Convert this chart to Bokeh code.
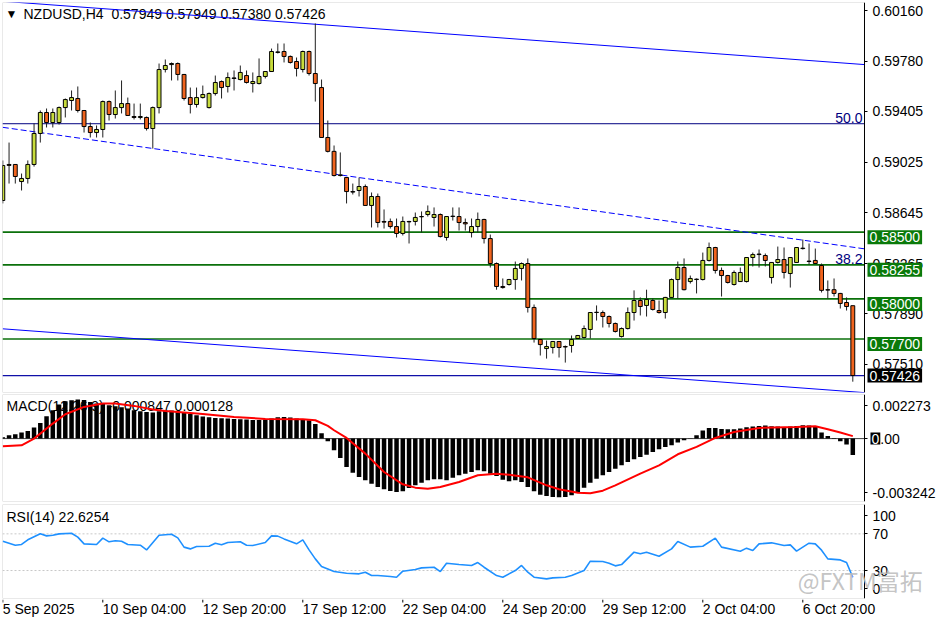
import math
from bokeh.plotting import figure
from bokeh.models import (Range1d, FixedTicker, Label, NumeralTickFormatter, ColumnDataSource,
                          LinearAxis, BoxAnnotation)
from bokeh.layouts import column
from bokeh.embed import file_html
from bokeh.resources import INLINE
from bokeh.core.properties import value

FONT = "Liberation Sans"

# ---------------- data (NZDUSD H4) ----------------
opens = [0.58737,0.59007,0.59007,0.58879,0.58902,0.59007,0.59239,0.59396,0.59321,0.59321,
         0.59433,0.59486,0.59501,0.59411,0.59291,0.59246,0.59269,0.59478,0.59381,0.59433,
         0.59463,0.59366,0.59359,0.59359,0.59276,0.59433,0.59718,0.59755,0.59763,0.59681,
         0.59508,0.59456,0.59508,0.59433,0.59538,0.59628,0.59591,0.59651,0.59643,0.59673,
         0.59613,0.59613,0.59666,0.59703,0.59846,0.59853,0.59816,0.59778,0.59718,0.59853,
         0.59688,0.59583,0.59209,0.59105,0.58924,0.58909,0.58804,0.58812,0.58842,0.58700,
         0.58767,0.58580,0.58580,0.58542,0.58490,0.58580,0.58580,0.58615,0.58632,0.58610,
         0.58632,0.58460,0.58617,0.58617,0.58572,0.58497,0.58542,0.58595,0.58452,0.58265,
         0.58093,0.58108,0.58145,0.58228,0.58265,0.57936,0.57696,0.57628,0.57636,0.57681,
         0.57643,0.57651,0.57703,0.57711,0.57771,0.57898,0.57898,0.57868,0.57816,0.57718,
         0.57778,0.57898,0.57988,0.57951,0.57988,0.57913,0.57898,0.58011,0.58145,0.58235,
         0.58130,0.58145,0.58145,0.58288,0.58385,0.58213,0.58175,0.58108,0.58130,0.58130,
         0.58310,0.58332,0.58325,0.58160,0.58273,0.58295,0.58190,0.58273,0.58377,0.58280,
         0.58288,0.58250,0.58069,0.58069,0.58041,0.57973,0.57949]
highs = [0.59037,0.59171,0.59010,0.58939,0.59037,0.59314,0.59411,0.59426,0.59426,0.59441,
         0.59501,0.59561,0.59591,0.59415,0.59321,0.59299,0.59486,0.59486,0.59561,0.59636,
         0.59508,0.59463,0.59463,0.59366,0.59441,0.59763,0.59793,0.59771,0.59771,0.59685,
         0.59583,0.59583,0.59598,0.59546,0.59673,0.59636,0.59696,0.59711,0.59748,0.59711,
         0.59696,0.59801,0.59703,0.59875,0.59913,0.59913,0.59823,0.59808,0.59860,0.59860,
         0.60063,0.59643,0.59336,0.59149,0.59097,0.58912,0.58864,0.58909,0.58857,0.58797,
         0.58789,0.58670,0.58602,0.58602,0.58617,0.58585,0.58647,0.58655,0.58700,0.58685,
         0.58640,0.58620,0.58685,0.58685,0.58602,0.58602,0.58647,0.58600,0.58482,0.58273,
         0.58153,0.58150,0.58280,0.58273,0.58303,0.57958,0.57700,0.57688,0.57685,0.57685,
         0.57651,0.57726,0.57730,0.57801,0.57900,0.57951,0.57913,0.57876,0.57823,0.57786,
         0.57936,0.58064,0.58011,0.58069,0.58003,0.57988,0.58015,0.58153,0.58280,0.58303,
         0.58175,0.58153,0.58347,0.58422,0.58390,0.58235,0.58180,0.58213,0.58235,0.58312,
         0.58347,0.58370,0.58340,0.58275,0.58392,0.58385,0.58312,0.58387,0.58445,0.58415,
         0.58377,0.58265,0.58138,0.58153,0.58045,0.58011,0.57949]
lows = [0.58715,0.58864,0.58864,0.58812,0.58864,0.58991,0.59171,0.59284,0.59284,0.59306,
        0.59359,0.59411,0.59396,0.59246,0.59209,0.59209,0.59209,0.59336,0.59351,0.59389,
        0.59370,0.59344,0.59344,0.59261,0.59126,0.59389,0.59696,0.59636,0.59636,0.59486,
        0.59389,0.59433,0.59501,0.59426,0.59523,0.59501,0.59546,0.59561,0.59636,0.59613,
        0.59546,0.59606,0.59651,0.59700,0.59838,0.59771,0.59763,0.59666,0.59696,0.59673,
        0.59478,0.59209,0.59097,0.58917,0.58917,0.58715,0.58782,0.58767,0.58700,0.58535,
        0.58535,0.58527,0.58527,0.58460,0.58475,0.58415,0.58550,0.58497,0.58617,0.58542,
        0.58460,0.58437,0.58587,0.58512,0.58512,0.58460,0.58497,0.58415,0.58235,0.58069,
        0.58077,0.58100,0.58069,0.58138,0.57898,0.57673,0.57576,0.57553,0.57591,0.57561,
        0.57523,0.57598,0.57700,0.57703,0.57703,0.57838,0.57786,0.57786,0.57748,0.57711,
        0.57771,0.57838,0.57876,0.57868,0.57913,0.57890,0.57853,0.58008,0.58003,0.58064,
        0.58115,0.58041,0.58138,0.58280,0.58190,0.58018,0.58115,0.58100,0.58127,0.58123,
        0.58243,0.58235,0.58243,0.58115,0.58265,0.58153,0.58085,0.58270,0.58370,0.58258,
        0.58262,0.58048,0.58003,0.58018,0.57928,0.57913,0.57380]
closes = [0.58999,0.59000,0.58917,0.58902,0.59007,0.59239,0.59396,0.59321,0.59396,0.59433,
          0.59493,0.59508,0.59411,0.59291,0.59246,0.59269,0.59478,0.59381,0.59433,0.59463,
          0.59374,0.59359,0.59366,0.59276,0.59433,0.59718,0.59748,0.59763,0.59681,0.59501,
          0.59456,0.59508,0.59531,0.59538,0.59621,0.59583,0.59658,0.59655,0.59696,0.59621,
          0.59628,0.59666,0.59703,0.59853,0.59850,0.59816,0.59771,0.59726,0.59853,0.59688,
          0.59613,0.59209,0.59105,0.58924,0.58929,0.58804,0.58800,0.58842,0.58700,0.58767,
          0.58572,0.58575,0.58542,0.58490,0.58580,0.58577,0.58610,0.58617,0.58655,0.58632,
          0.58467,0.58617,0.58620,0.58572,0.58562,0.58542,0.58595,0.58452,0.58265,0.58093,
          0.58085,0.58145,0.58228,0.58265,0.57936,0.57703,0.57658,0.57643,0.57681,0.57636,
          0.57640,0.57696,0.57726,0.57778,0.57898,0.57900,0.57868,0.57816,0.57756,0.57778,
          0.57898,0.57988,0.57943,0.57996,0.57921,0.57898,0.58011,0.58145,0.58235,0.58069,
          0.58153,0.58148,0.58288,0.58385,0.58213,0.58175,0.58123,0.58198,0.58198,0.58310,
          0.58332,0.58336,0.58288,0.58273,0.58295,0.58198,0.58310,0.58385,0.58380,0.58283,
          0.58265,0.58064,0.58066,0.58041,0.57966,0.57943,0.57426]

macd_hist = [0.000069,0.000172,0.000224,0.00031,0.000396,0.000568,0.000808,0.001152,0.001462,0.001754,
             0.001926,0.001978,0.002012,0.001995,0.001892,0.001806,0.001789,0.00172,0.001668,0.001617,
             0.001548,0.001462,0.00141,0.001376,0.001342,0.00141,0.001445,0.001445,0.00141,0.001376,
             0.001273,0.001204,0.001135,0.001101,0.001066,0.001049,0.001032,0.001015,0.000998,0.00098,
             0.000963,0.000963,0.00098,0.001032,0.001101,0.001118,0.001084,0.001032,0.000998,0.000946,
             0.000757,0.000275,-0.000138,-0.000602,-0.000998,-0.001462,-0.001754,-0.001978,-0.00215,-0.002322,
             -0.002494,-0.002614,-0.0027,-0.002752,-0.002718,-0.002546,-0.002408,-0.00227,-0.00215,-0.002098,
             -0.002098,-0.00215,-0.002012,-0.001892,-0.001806,-0.00172,-0.001634,-0.001686,-0.001806,-0.001926,
             -0.002116,-0.002202,-0.00215,-0.002236,-0.002494,-0.002718,-0.00289,-0.002958,-0.00301,-0.003027,
             -0.00301,-0.002924,-0.002752,-0.002528,-0.00227,-0.002064,-0.001892,-0.00172,-0.001548,-0.001376,
             -0.001204,-0.001066,-0.000946,-0.000826,-0.000688,-0.00055,-0.00043,-0.000344,-0.000206,-0.000086,
             0.00002,0.000172,0.000413,0.00055,0.00055,0.000499,0.000482,0.000482,0.000516,0.000585,
             0.000619,0.000654,0.000671,0.000636,0.000619,0.000602,0.000619,0.000654,0.000688,0.000671,
             0.000619,0.00031,0.000138,-0.00002,-0.000138,-0.00031,-0.000847]
sig_idx = [0,3,5,8,10,13,16,18,21,24,26,32,37,42,48,50,52,53,55,58,61,64,66,68,70,73,76,79,81,84,
           87,89,92,94,96,98,102,105,108,111,114,117,121,127,130,132,134,136]
sig_val = [-0.000396,-0.000344,0.0,0.000774,0.001256,0.001634,0.001806,0.001806,0.001686,0.001496,
           0.001428,0.001273,0.001118,0.001015,0.000998,0.000946,0.000654,0.00043,0.000034,-0.000774,
           -0.00172,-0.002356,-0.002528,-0.00258,-0.002494,-0.002236,-0.001892,-0.001806,-0.001858,-0.001995,
           -0.002408,-0.002614,-0.002786,-0.002821,-0.002683,-0.002408,-0.001806,-0.001376,-0.000808,-0.00043,
           0.000034,0.000344,0.00055,0.000602,0.000636,0.000482,0.00031,0.000128]

rsi_idx = [0,1,2,3,4,6,7,8,9,11,12,13,15,16,17,18,19,20,22,23,25,27,28,29,30,31,33,34,35,36,
           38,39,40,42,43,44,45,47,48,49,50,51,53,55,57,58,59,60,62,63,64,66,67,69,70,71,73,75,76,77,
           79,80,82,83,84,85,87,88,90,91,93,94,96,97,98,99,101,102,103,105,107,108,110,112,114,115,
           118,119,120,121,123,125,126,127,129,130,131,132,134,135,136]
rsi_val = [62.0,59.8,57.6,58.4,63.5,70.0,67.8,68.5,70.0,70.7,66.4,59.1,58.4,65.3,61.3,62.4,62.0,58.4,57.6,52.5,
           68.5,69.6,65.6,55.5,53.6,56.2,56.5,59.8,58.0,60.5,61.3,57.6,57.3,60.5,67.8,67.5,64.5,59.1,63.5,52.5,
           42.7,34.4,28.9,27.1,26.4,28.2,24.5,24.5,23.5,22.7,29.3,31.1,32.9,33.6,28.9,38.0,36.5,35.5,38.7,33.6,
           24.5,22.7,30.0,35.5,28.2,22.7,20.9,22.0,22.7,24.5,30.0,40.2,39.8,38.0,35.1,36.5,50.0,48.2,50.0,45.6,
           53.6,61.6,55.5,56.5,65.3,55.5,51.1,54.4,51.8,59.1,60.2,57.3,58.0,51.1,59.8,59.1,52.2,42.7,41.6,38.7,
           22.6]

price_ticks = [0.60160, 0.59780, 0.59405, 0.59025, 0.58645, 0.58265, 0.57890, 0.57510]
support_levels = [0.58500, 0.58255, 0.58000, 0.57700]
last_price = 0.57426
fib_levels = [0.59312, 0.58255]
fib_labels = ["50.0", "38.2"]
chan_bars = [0, 137.87]
chan_upper = [0.60229, 0.59755]
chan_mid = [0.59285, 0.58375]
chan_lower = [0.57776, 0.57298]
rsi_levels = [70, 30]

time_tick_bars = [0, 16, 32, 48, 64, 80, 96, 112, 128]
time_tick_labels = ["5 Sep 2025", "10 Sep 04:00", "12 Sep 20:00", "17 Sep 12:00", "22 Sep 04:00",
                    "24 Sep 20:00", "29 Sep 12:00", "2 Oct 04:00", "6 Oct 20:00"]

header = "NZDUSD,H4\u00a0 0.57949 0.57949 0.57380 0.57426"
macd_title = "MACD(12,26,9) -0.000847 0.000128"
rsi_title = "RSI(14) 22.6254"
watermark = "@FXTM富拓"

# ---------------- layout constants ----------------
BULL = "#c8dc3c"
BEAR = "#f0641e"
BORDER = "#6a6a6a"
W = 936
XR = Range1d(-0.048, 149.392)      # chart area + price-scale column share one frame
AXIS_X = 137.87                    # right edge of the chart area (price scale line)


def make(height, yr, top=1, bottom=1):
    p = figure(width=W, height=height, x_range=XR, y_range=yr, output_backend="svg",
               toolbar_location=None, x_axis_location=None, y_axis_location=None,
               min_border_left=2, min_border_right=0, min_border_top=top, min_border_bottom=bottom)
    p.grid.visible = False
    p.outline_line_color = None
    p.background_fill_color = "white"
    p.border_fill_color = "white"
    ax = LinearAxis(fixed_location=AXIS_X)
    ax.major_label_text_font = FONT
    ax.major_label_text_font_size = "14px"
    ax.major_label_text_color = "black"
    ax.major_tick_in = 0
    ax.major_tick_out = 3
    ax.minor_tick_line_color = None
    ax.major_label_standoff = 5
    ax.axis_line_color = "black"
    ax.major_tick_line_color = "black"
    p.add_layout(ax, "right")
    p.add_layout(BoxAnnotation(right=AXIS_X, fill_alpha=0, line_color=BORDER, line_width=1,
                               level="underlay"))
    return p, ax


def hline(p, y, **kw):
    p.segment(x0=[XR.start], x1=[AXIS_X], y0=[y], y1=[y], **kw)


# ---------------- main price panel ----------------
p1, ax1 = make(393, Range1d(0.57299, 0.60220), top=2, bottom=1)
ax1.ticker = FixedTicker(ticks=price_ticks)
ax1.formatter = NumeralTickFormatter(format="0.00000")

bar_idx = list(range(len(closes)))
src = ColumnDataSource(dict(
    x=bar_idx, h=highs, l=lows,
    top=[max(o, c) for o, c in zip(opens, closes)],
    bot=[min(o, c) for o, c in zip(opens, closes)],
    col=[BULL if c > o else BEAR for o, c in zip(opens, closes)]))

p1.text(x=[XR.start], y=[p1.y_range.end], text=["\u25bc"], x_offset=3, y_offset=11,
        text_baseline="middle", text_font=value(FONT), text_font_size="12px", text_color="black")
p1.text(x=[XR.start], y=[p1.y_range.end], text=[header], x_offset=21, y_offset=11,
        text_baseline="middle", text_font=value(FONT), text_font_size="14px", text_color="black")

for lvl in support_levels:
    hline(p1, lvl, line_color="#0b700b", line_width=1.6)
hline(p1, fib_levels[0], line_color="#000080", line_width=1)
hline(p1, last_price, line_color="#1010a8", line_width=1.2)

p1.line(chan_bars, chan_upper, line_color="#0000ff", line_width=1)
p1.line(chan_bars, chan_mid, line_color="#0000ff", line_width=1, line_dash="6 3")
p1.line(chan_bars, chan_lower, line_color="#0000ff", line_width=1)

p1.segment(x0="x", y0="l", x1="x", y1="h", source=src, line_color="#202020", line_width=1)
p1.vbar(x="x", top="top", bottom="bot", width=0.62, fill_color="col", line_color="black",
        line_width=1, source=src)

for lvl, lab in zip(fib_levels, fib_labels):
    p1.add_layout(Label(x=AXIS_X, y=lvl, text=lab, text_align="right", text_baseline="bottom",
                        x_offset=-2, y_offset=1, text_color="#000080", text_font=FONT,
                        text_font_size="14px"))

for lvl in support_levels:
    p1.add_layout(Label(x=AXIS_X, y=lvl, text=f"{lvl:.5f}", text_align="left", text_baseline="middle",
                        x_offset=3, y_offset=-5, text_color="white", text_font=FONT,
                        text_font_size="14px", background_fill_color="#0a7a0a", padding=2))
p1.add_layout(Label(x=AXIS_X, y=last_price, text=f"{last_price:.5f}", text_align="left",
                    text_baseline="middle", x_offset=3, y_offset=0, text_color="white",
                    text_font=FONT, text_font_size="14px", background_fill_color="black", padding=2))

# ---------------- MACD panel ----------------
p2, ax2 = make(109, Range1d(-0.003242, 0.002273), top=1, bottom=1)
ax2.ticker = FixedTicker(ticks=[0.0017, 0.0, -0.00278])
ax2.major_label_overrides = {0.0017: "0.002273", 0.0: "0.00", -0.00278: "-0.003242"}
p2.text(x=[XR.start], y=[p2.y_range.end], text=[macd_title], x_offset=4, y_offset=11,
        text_baseline="middle", text_font=value(FONT), text_font_size="14px", text_color="black")
hline(p2, 0, line_color="#404040", line_width=1)
p2.vbar(x=bar_idx, top=macd_hist, bottom=0, width=0.72, fill_color="black", line_color=None)
p2.line(sig_idx, sig_val, line_color="#ff0000", line_width=2)
p2.add_layout(Label(x=AXIS_X, y=0, text="0", text_align="left", text_baseline="middle",
                    x_offset=6, text_color="white", text_font=FONT, text_font_size="14px",
                    background_fill_color="black", padding=1))

# ---------------- RSI panel ----------------
p3, ax3 = make(97, Range1d(-0.5, 102), top=2, bottom=1)
ax3.ticker = FixedTicker(ticks=[90, 70, 30, 10])
ax3.major_label_overrides = {90: "100", 70: "70", 30: "30", 10: "0"}
for lvl in rsi_levels:
    hline(p3, lvl, line_color="#c8c8c8", line_width=1, line_dash="2 2")
p3.text(x=[XR.start], y=[p3.y_range.end], text=[rsi_title], x_offset=4, y_offset=12,
        text_baseline="middle", text_font=value(FONT), text_font_size="14px", text_color="black")
p3.line(rsi_idx, rsi_val, line_color="#1e90ff", line_width=1.6)
p3.add_layout(Label(x=127.2, y=20, text=watermark, text_baseline="middle",
                    text_font="Noto Sans CJK SC", text_font_size="23px", text_color="#bdbdbd",
                    text_alpha=0.9))

# ---------------- time scale strip ----------------
p4 = figure(width=W, height=22, x_range=XR, y_range=Range1d(0, 1), output_backend="svg",
            toolbar_location=None, x_axis_location=None, y_axis_location=None,
            min_border_left=2, min_border_right=0, min_border_top=0, min_border_bottom=0)
p4.grid.visible = False
p4.outline_line_color = None
p4.ray(x=time_tick_bars, y=[1.0] * len(time_tick_bars), length=3, length_units="screen",
       angle=-math.pi / 2, line_color="black", line_width=1)
p4.text(x=time_tick_bars, y=[0.55] * len(time_tick_bars), text=time_tick_labels,
        text_align="left", text_baseline="middle", text_font=value(FONT),
        text_font_size="14px", text_color="black")

layout = column(p1, p2, p3, p4, spacing=0)
open("out.html", "w").write(file_html(layout, INLINE))
